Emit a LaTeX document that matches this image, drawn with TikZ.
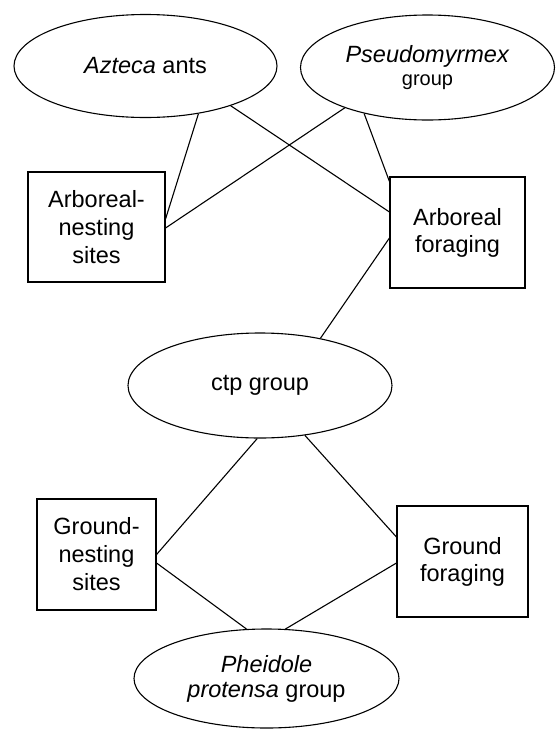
\documentclass[tikz,border=0pt]{standalone}
\usepackage{fontspec}
\setmainfont{Liberation Sans}
\usetikzlibrary{shapes.geometric}
\begin{document}
\begin{tikzpicture}[x=1pt,y=-1pt,
  every node/.style={font=\fontsize{23.5}{28}\selectfont, inner sep=0pt, align=center},
  oval/.style={draw, ellipse, line width=1.1pt},
  boxnode/.style={draw, rectangle, line width=1.1pt},
  link/.style={line width=1.1pt}]
\useasboundingbox (0,0) rectangle (556,729);
% ellipses
\node[oval, minimum width=263pt, minimum height=103pt] (az) at (145.5,66) {\textit{Azteca} ants};
\node[oval, minimum width=254pt, minimum height=105pt, font=\fontsize{23.5}{23}\selectfont] (ps) at (427.5,67.5)
  {\textit{Pseudomyrmex}\\{\fontsize{20}{23}\selectfont group}};
\node[oval, minimum width=264pt, minimum height=105pt] (ctp) at (260,385.5) {ctp group};
\node[oval, minimum width=265pt, minimum height=99pt, font=\fontsize{23.5}{25}\selectfont] (ph) at (266.5,678.5)
  {\textit{Pheidole}\\\textit{protensa} group};
% boxes
\node[boxnode, minimum width=137pt, minimum height=110pt] (an) at (96.5,227) {Arboreal-\\nesting\\sites};
\node[boxnode, minimum width=135pt, minimum height=111pt, font=\fontsize{23.5}{27}\selectfont] (af) at (457.5,232.5) {Arboreal\\foraging};
\node[boxnode, minimum width=119pt, minimum height=111pt] (gn) at (96.5,554.5) {Ground-\\nesting\\sites};
\node[boxnode, minimum width=131pt, minimum height=111pt, font=\fontsize{23.5}{27}\selectfont] (gf) at (462.5,561.5) {Ground\\foraging};
% connectors
\draw[link] (az.-42.5) -- ([yshift=8pt]an.east);
\draw[link] (az.-25.4) -- ([yshift=20.5pt]af.west);
\draw[link] (ps.206.7) -- ([yshift=-1pt]an.east);
\draw[link] (ps.-144) -- ([yshift=51pt]af.west);
\draw[link] ([yshift=-5.5pt]af.west) -- (ctp.38);
\draw[link] (ctp.-93) -- (gn.east);
\draw[link] (ctp.-48.3) -- ([yshift=24.5pt]gf.west);
\draw[link] ([yshift=-8.5pt]gn.east) -- (ph.112.5);
\draw[link] ([yshift=-1.5pt]gf.west) -- (ph.69.5);
\end{tikzpicture}
\end{document}
